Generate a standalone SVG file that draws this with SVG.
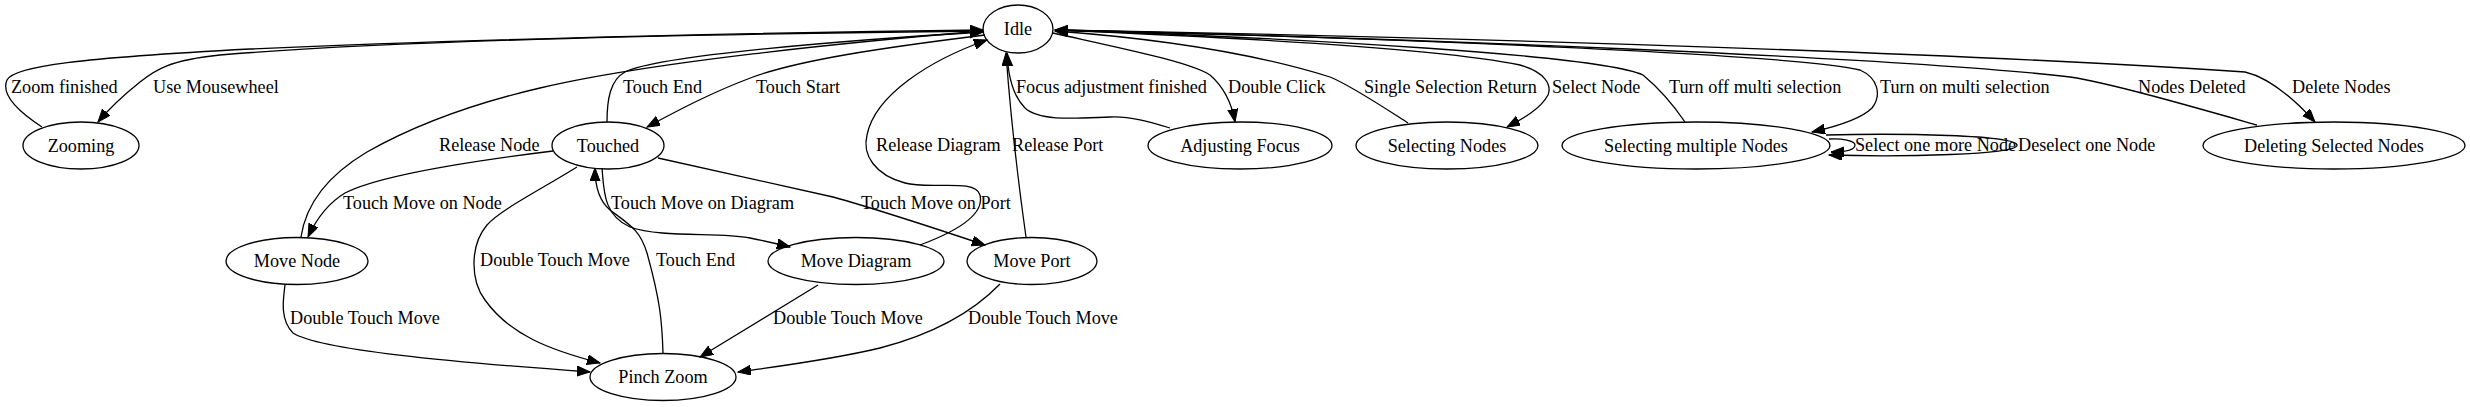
<svg xmlns="http://www.w3.org/2000/svg" width="2470" height="407" viewBox="0 0 2470 407">
<style>
text{font-family:"Liberation Serif","Times New Roman",serif;font-size:18.2px;fill:#000}
.n ellipse{fill:none;stroke:#000;stroke-width:1.3}
.n text{text-anchor:middle}
#edges path{fill:none;stroke:#000;stroke-width:1.3;marker-end:url(#ah)}
</style>
<defs>
<marker id="ah" markerUnits="userSpaceOnUse" markerWidth="16" markerHeight="12" refX="13" refY="5" orient="auto">
<path d="M0,0 L13,5 L0,10 z" fill="#000" stroke="#000" stroke-width="1"/>
</marker>
</defs>
<rect width="2470" height="407" fill="#fff"/>
<g id="edges">
<path d="M42,127 C22,114 0,96 7,80 C14,66 80,58 250,49 C500,38 800,32 983,30"/>
<path d="M983,31 C700,34 400,40 220,55 C170,60 155,70 140,82 C120,98 108,110 98,122"/>
<path d="M985,35 C880,48 800,60 753,77 C710,93 675,112 647,127"/>
<path d="M607,122 C607,100 610,80 625,72 C660,55 850,40 983,32"/>
<path d="M553,151 C480,160 380,175 345,193 C325,205 315,222 308,237"/>
<path d="M301,237 C305,210 320,180 367,152 C420,122 480,102 540,88 C650,62 850,42 983,31"/>
<path d="M602,168 C604,190 603,215 630,227 C660,238 720,232 750,238 C765,241 778,244 790,247"/>
<path d="M920,245 C955,232 985,215 980,195 C975,178 930,190 905,183 C875,175 862,155 867,135 C875,95 930,60 987,40"/>
<path d="M658,158 C720,172 780,185 833,197 C880,210 940,230 985,245"/>
<path d="M1026,237 C1018,180 1010,110 1006,53"/>
<path d="M577,167 C540,190 500,210 487,225 C470,245 470,280 485,300 C510,335 550,350 600,363"/>
<path d="M663,353 C662,320 660,300 647,253 C640,230 630,225 610,210 C598,200 595,185 595,168"/>
<path d="M285,285 C283,300 280,320 293,333 C320,350 450,362 590,372"/>
<path d="M818,285 L700,357"/>
<path d="M1000,284 C970,315 930,335 880,348 C830,360 780,366 738,372"/>
<path d="M1170,128 C1150,122 1130,116 1110,117 C1080,118 1040,122 1025,108 C1012,95 1008,75 1007,53"/>
<path d="M1053,33 C1120,48 1190,62 1210,75 C1225,88 1232,105 1235,122"/>
<path d="M1408,123 C1380,105 1350,85 1330,77 C1250,52 1150,38 1055,31"/>
<path d="M1055,30 C1250,38 1450,50 1520,65 C1545,72 1552,85 1548,95 C1540,110 1520,120 1507,127"/>
<path d="M1685,122 C1670,100 1655,85 1643,75 C1600,55 1300,38 1055,30"/>
<path d="M1055,30 C1400,38 1800,55 1860,70 C1878,78 1882,95 1872,108 C1860,120 1830,128 1812,132"/>
<path d="M1829,139 C1842,138 1855,141 1855,145 C1855,150 1845,152 1831,152"/>
<path d="M1826,135 C1900,133 2015,135 2017,145 C2019,155 1900,157 1829,155"/>
<path d="M2257,125 C2190,106 2110,83 2070,77 C1900,57 1400,38 1055,30"/>
<path d="M1055,30 C1500,38 2000,55 2245,72 C2270,78 2295,100 2315,122"/>
</g>
<g id="edge-labels">
<text x="11" y="93">Zoom finished</text>
<text x="153" y="93">Use Mousewheel</text>
<text x="623" y="93">Touch End</text>
<text x="756" y="93">Touch Start</text>
<text x="1016" y="93">Focus adjustment finished</text>
<text x="1228" y="93">Double Click</text>
<text x="1364" y="93">Single Selection Return</text>
<text x="1552" y="93">Select Node</text>
<text x="1669" y="93">Turn off multi selection</text>
<text x="1880" y="93">Turn on multi selection</text>
<text x="2138" y="93">Nodes Deleted</text>
<text x="2292" y="93">Delete Nodes</text>
<text x="439" y="151">Release Node</text>
<text x="876" y="151">Release Diagram</text>
<text x="1012" y="151">Release Port</text>
<text x="1855" y="151">Select one more Node</text>
<text x="2018" y="151">Deselect one Node</text>
<text x="343" y="209">Touch Move on Node</text>
<text x="611" y="209">Touch Move on Diagram</text>
<text x="861" y="209">Touch Move on Port</text>
<text x="480" y="266">Double Touch Move</text>
<text x="656" y="266">Touch End</text>
<text x="290" y="324">Double Touch Move</text>
<text x="773" y="324">Double Touch Move</text>
<text x="968" y="324">Double Touch Move</text>
</g>
<g id="idle" class="n"><ellipse cx="1018" cy="29" rx="35" ry="24"/><text x="1018" y="35">Idle</text></g>
<g id="zooming" class="n"><ellipse cx="81" cy="145.5" rx="58" ry="23.5"/><text x="81" y="151.5">Zooming</text></g>
<g id="touched" class="n"><ellipse cx="608" cy="145.5" rx="56" ry="23.5"/><text x="608" y="151.5">Touched</text></g>
<g id="adjusting-focus" class="n"><ellipse cx="1240" cy="145.5" rx="92" ry="23.5"/><text x="1240" y="151.5">Adjusting Focus</text></g>
<g id="selecting-nodes" class="n"><ellipse cx="1447" cy="145.5" rx="91" ry="23.5"/><text x="1447" y="151.5">Selecting Nodes</text></g>
<g id="selecting-multiple-nodes" class="n"><ellipse cx="1696" cy="145.5" rx="134" ry="23.5"/><text x="1696" y="151.5">Selecting multiple Nodes</text></g>
<g id="deleting-selected-nodes" class="n"><ellipse cx="2334" cy="145.5" rx="131" ry="23.5"/><text x="2334" y="151.5">Deleting Selected Nodes</text></g>
<g id="move-node" class="n"><ellipse cx="297" cy="261" rx="71" ry="23.5"/><text x="297" y="267">Move Node</text></g>
<g id="move-diagram" class="n"><ellipse cx="856" cy="261" rx="88" ry="23.5"/><text x="856" y="267">Move Diagram</text></g>
<g id="move-port" class="n"><ellipse cx="1032" cy="261" rx="65" ry="23.5"/><text x="1032" y="267">Move Port</text></g>
<g id="pinch-zoom" class="n"><ellipse cx="663" cy="377" rx="73" ry="23.5"/><text x="663" y="383">Pinch Zoom</text></g>
</svg>
